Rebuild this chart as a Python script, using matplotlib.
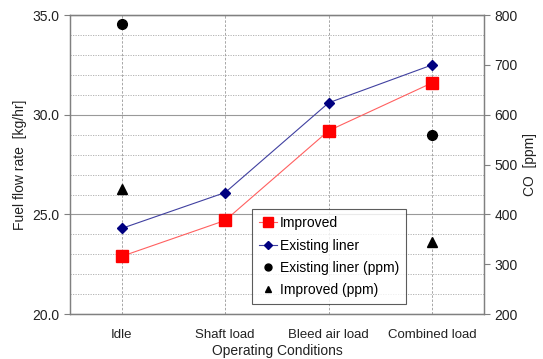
import matplotlib
matplotlib.use("Agg")
import matplotlib.pyplot as plt
from matplotlib.ticker import MultipleLocator
from matplotlib.lines import Line2D

categories = ["Idle", "Shaft load", "Bleed air load", "Combined load"]
improved = [22.9, 24.7, 29.2, 31.6]
existing = [24.3, 26.1, 30.6, 32.5]
existing_ppm_x = ["Idle", "Combined load"]
existing_ppm = [782, 560]
improved_ppm_x = ["Idle", "Combined load"]
improved_ppm = [451, 344]

plt.rcParams['font.family'] = ['Liberation Sans', 'DejaVu Sans']
fig = plt.figure(figsize=(5.43, 3.59), dpi=100)
ax = fig.add_axes([0.129, 0.125, 0.762, 0.833])
ax2 = ax.twinx()

x = list(range(len(categories)))
idx = {c: i for i, c in enumerate(categories)}

ax.set_xlim(-0.5, len(categories) - 0.5)
ax.set_ylim(20, 35)
ax2.set_ylim(200, 800)

ax.yaxis.set_major_locator(MultipleLocator(5))
ax.yaxis.set_minor_locator(MultipleLocator(1))
ax.grid(which='minor', axis='y', color='#aaaaaa', linestyle=(0, (1.5, 1.5)), linewidth=0.6)
ax.grid(which='major', axis='y', color='#999999', linestyle='-', linewidth=0.8)
ax.set_xticks(x)
ax.set_xticklabels(categories)
ax.grid(which='major', axis='x', color='#999999', linestyle=(0, (3, 2)), linewidth=0.6)
ax.set_axisbelow(True)
ax.yaxis.set_major_formatter(matplotlib.ticker.FormatStrFormatter('%.1f'))

l1, = ax.plot(x, improved, color='#ff6060', linewidth=0.8, marker='s', markersize=8,
              markerfacecolor='#ff0000', markeredgecolor='#ff0000', zorder=5)
l2, = ax.plot(x, existing, color='#4040a0', linewidth=0.8, marker='D', markersize=5.5,
              markerfacecolor='#000080', markeredgecolor='#000080', zorder=5)
ax2.plot([idx[c] for c in existing_ppm_x], existing_ppm, linestyle='none', marker='o',
         markersize=7, color='black')
ax2.plot([idx[c] for c in improved_ppm_x], improved_ppm, linestyle='none', marker='^',
         markersize=6.5, color='black')

for a in (ax, ax2):
    for s in a.spines.values():
        s.set_color('#808080')
        s.set_linewidth(0.9)
ax.spines['top'].set_color('#555555')

ax.tick_params(axis='x', length=0, labelsize=9.5, pad=11, colors='#222222')
ax.tick_params(axis='y', which='major', length=4, labelsize=10, colors='#222222', direction='out')
ax.tick_params(axis='y', which='major', color='#808080')
ax.tick_params(axis='y', which='minor', length=0)
ax2.tick_params(axis='y', length=4, labelsize=10, colors='#222222', color='#808080')
ax2.yaxis.set_major_locator(MultipleLocator(100))

ax.set_xlabel("Operating Conditions", fontsize=10, labelpad=2, color='#222222')
ax.set_ylabel("Fuel flow rate  [kg/hr]", fontsize=10, labelpad=4, color='#222222')
ax2.set_ylabel("CO  [ppm]", fontsize=10, labelpad=4, color='#222222')

handles = [
    Line2D([], [], color='#ff6060', linewidth=0.8, marker='s', markersize=7,
           markerfacecolor='#ff0000', markeredgecolor='#ff0000'),
    Line2D([], [], color='#4040a0', linewidth=0.8, marker='D', markersize=4.5,
           markerfacecolor='#000080', markeredgecolor='#000080'),
    Line2D([], [], linestyle='none', marker='o', markersize=5, color='black'),
    Line2D([], [], linestyle='none', marker='^', markersize=5, color='black'),
]
labels = ["Improved", "Existing liner", "Existing liner (ppm)", "Improved (ppm)"]
leg = ax2.legend(handles, labels, loc='lower left', bbox_to_anchor=(0.44, 0.033),
                 fontsize=10, frameon=True, fancybox=False, handlelength=1.3,
                 handletextpad=0.2, borderpad=0.5, labelspacing=0.6, borderaxespad=0)
leg.get_frame().set_edgecolor('#333333')
leg.get_frame().set_linewidth(0.8)

fig.savefig("out.png", dpi=100)
